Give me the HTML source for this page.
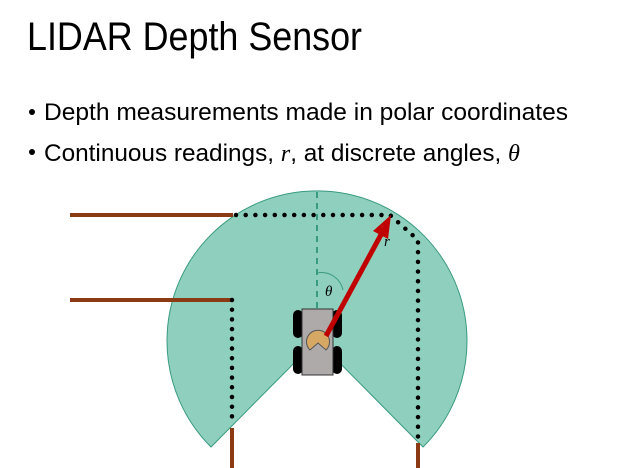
<!DOCTYPE html>
<html><head><style>body{margin:0;background:#fff}svg{display:block}</style></head><body>
<svg width="633" height="468" xmlns="http://www.w3.org/2000/svg" font-family="Liberation Sans, sans-serif">
<text x="27" y="50" font-size="40" textLength="335" lengthAdjust="spacingAndGlyphs" fill="#000">LIDAR Depth Sensor</text>
<circle cx="32" cy="112" r="3" fill="#000"/>
<text x="44" y="120" font-size="24" textLength="524" lengthAdjust="spacingAndGlyphs">Depth measurements made in polar coordinates</text>
<circle cx="32" cy="152" r="3" fill="#000"/>
<text x="44" y="161" font-size="24" textLength="476" lengthAdjust="spacingAndGlyphs">Continuous readings, <tspan font-family="Liberation Serif, serif" font-style="italic">r</tspan>, at discrete angles, <tspan font-family="Liberation Serif, serif" font-style="italic">θ</tspan></text>
<path d="M317 340 L211 447 A150 150 0 1 1 423 447 Z" fill="#8ecfbd" stroke="#3a9a80" stroke-width="1"/>
<line x1="317" y1="192" x2="317" y2="337" stroke="#3a9a80" stroke-width="2" stroke-dasharray="6,5"/>
<path d="M317 273 A 22 22 0 0 1 343 290" fill="none" stroke="#3a9a80" stroke-width="1"/>
<text x="325" y="296" font-family="Liberation Serif, serif" font-style="italic" font-size="15">θ</text>
<g stroke="#8b3a14" stroke-width="4">
<line x1="70" y1="215" x2="233" y2="215"/>
<line x1="70" y1="300" x2="231" y2="300"/>
<line x1="232" y1="428" x2="232" y2="468"/>
<line x1="418" y1="443" x2="418" y2="468"/>
</g>
<g stroke="#000" stroke-width="4.5" stroke-linecap="round" stroke-dasharray="0,9.7" fill="none">
<path d="M236 215 L390 215 L418 240 L418 440"/>
<path d="M232 300 L232 426"/>
</g>
<g fill="#000">
<rect x="293" y="310" width="10" height="28" rx="5"/>
<rect x="332" y="310" width="10" height="28" rx="5"/>
<rect x="293" y="346" width="10" height="28" rx="5"/>
<rect x="332" y="346" width="10" height="28" rx="5"/>
</g>
<rect x="302" y="309" width="31" height="66" fill="#aeaaaa" stroke="#333" stroke-width="1"/>
<path d="M318 343 L310 350 A11.5 11.5 0 1 1 326 350 Z" fill="#d6a864" stroke="#555" stroke-width="1"/>
<line x1="326" y1="336" x2="383" y2="231" stroke="#c00000" stroke-width="5"/>
<polygon points="391,215 373,231 388,239" fill="#c00000"/>
<text x="384" y="246" font-family="Liberation Serif, serif" font-style="italic" font-size="15">r</text>
</svg>
</body></html>
